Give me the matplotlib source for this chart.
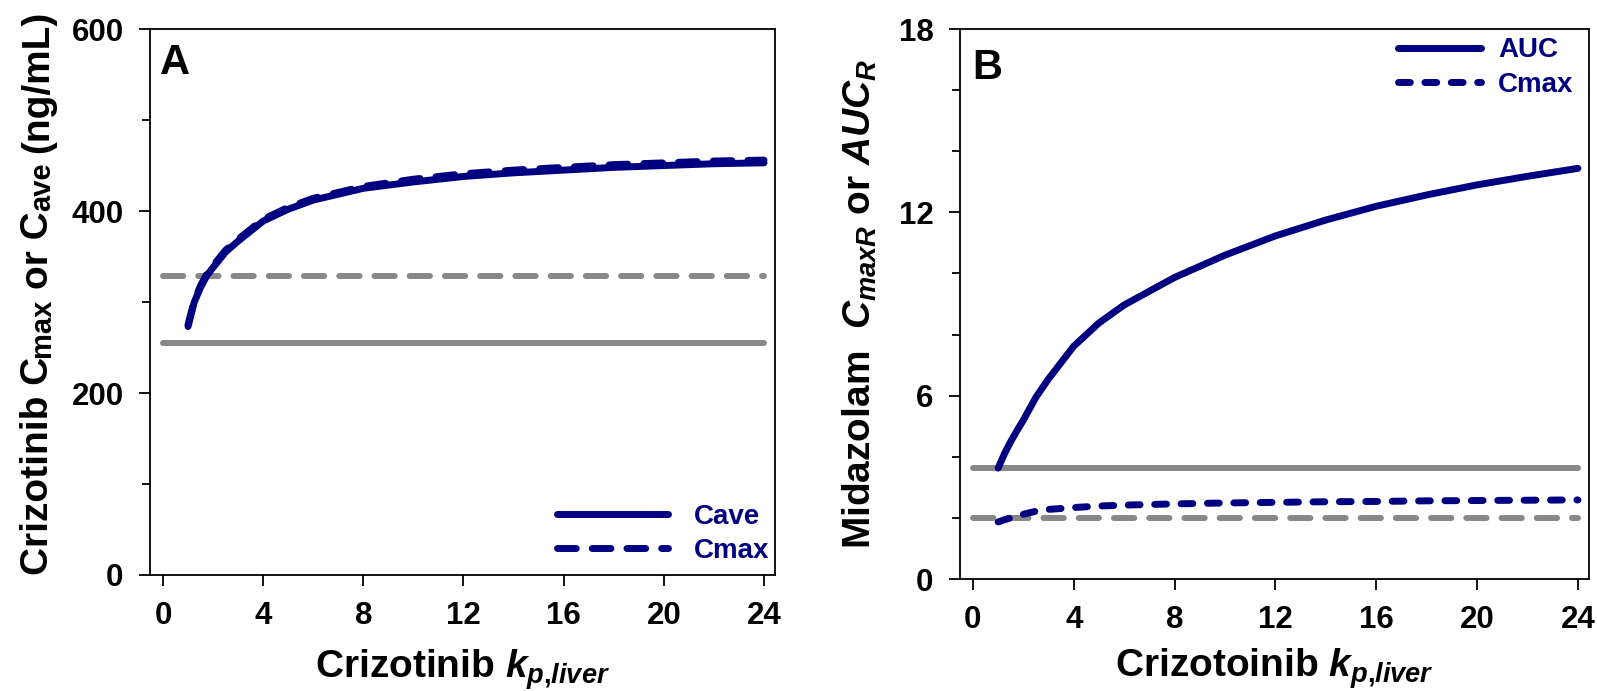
import matplotlib
matplotlib.use("Agg")
import matplotlib.pyplot as plt
from matplotlib.ticker import MultipleLocator

plt.rcParams['font.family'] = ['Liberation Sans', 'DejaVu Sans']
plt.rcParams['font.weight'] = 'bold'
plt.rcParams['axes.labelweight'] = 'bold'
plt.rcParams['mathtext.fontset'] = 'custom'
plt.rcParams['mathtext.rm'] = 'Liberation Sans:bold'
plt.rcParams['mathtext.bf'] = 'Liberation Sans:bold'
plt.rcParams['mathtext.it'] = 'Liberation Sans:italic:bold'
plt.rcParams['mathtext.sf'] = 'Liberation Sans:bold'

NAVY = '#000080'
GRAY = '#888888'

# crizotinib kp,liver values shared by both panels
kp = [1, 1.25, 1.5, 1.75, 2, 2.5, 3, 4, 5, 6, 8, 10, 12, 14, 16, 18, 20, 22, 24]

# panel A: crizotinib concentrations (ng/mL)
a_cave = [273, 300, 316, 329, 338, 355, 367, 389, 402, 412, 425, 432, 438, 442, 445, 448,
          450, 452, 453]
a_cmax = [275, 302, 318, 331, 340, 357, 369, 391, 404, 414, 427, 435, 441, 445, 448, 451,
          453, 455, 456]
a_cave_obs = 255
a_cmax_obs = 329

# panel B: midazolam ratios
b_auc = [3.63, 4.10, 4.50, 4.86, 5.20, 5.95, 6.55, 7.62, 8.38, 8.97, 9.87, 10.60, 11.23,
         11.75, 12.20, 12.57, 12.90, 13.18, 13.44]
b_cmax = [1.87, 1.94, 2.00, 2.06, 2.12, 2.22, 2.28, 2.34, 2.39, 2.42, 2.46, 2.49, 2.51,
          2.53, 2.54, 2.56, 2.57, 2.58, 2.59]
b_auc_obs = 3.63
b_cmax_obs = 2.0

obs_x = [0, 24]

fig = plt.figure(figsize=(15.97, 6.91), dpi=100)
axA = fig.add_axes([0.0939, 0.1679, 0.3914, 0.790])
axB = fig.add_axes([0.6010, 0.162, 0.3940, 0.796])

def style_axis(ax, ymax, ymajor, yminor):
    ax.set_xlim(-0.52, 24.44)
    ax.set_ylim(0, ymax)
    ax.xaxis.set_major_locator(MultipleLocator(4))
    ax.yaxis.set_major_locator(MultipleLocator(ymajor))
    ax.yaxis.set_minor_locator(MultipleLocator(yminor))
    ax.tick_params(axis='both', which='major', direction='out', length=8, width=1.3,
                   labelsize=22.5)
    ax.tick_params(axis='y', which='minor', direction='out', length=6, width=1.3)
    ax.tick_params(axis='y', which='major', pad=11)
    ax.tick_params(axis='x', which='major', pad=11)
    for s in ax.spines.values():
        s.set_linewidth(1.3)

style_axis(axA, 600, 200, 100)
style_axis(axB, 18, 6, 2)

# panel A lines
axA.plot(obs_x, [a_cave_obs, a_cave_obs], color=GRAY, lw=4.3, solid_capstyle='round')
axA.plot(obs_x, [a_cmax_obs, a_cmax_obs], color=GRAY, lw=4.3, dashes=(3.4, 2.5),
         dash_capstyle='round')
axA.plot(kp, a_cave, color=NAVY, lw=5, solid_capstyle='round', label='Cave')
axA.plot(kp, a_cmax, color=NAVY, lw=5, dashes=(2.7, 2.3), dash_capstyle='round',
         label='Cmax')

# panel B lines
axB.plot(obs_x, [b_auc_obs, b_auc_obs], color=GRAY, lw=4.3, solid_capstyle='round')
axB.plot(obs_x, [b_cmax_obs, b_cmax_obs], color=GRAY, lw=4.3, dashes=(3.4, 2.5),
         dash_capstyle='round')
axB.plot(kp, b_auc, color=NAVY, lw=5, solid_capstyle='round', label='AUC')
axB.plot(kp, b_cmax, color=NAVY, lw=5, dashes=(1.7, 2.1), dash_capstyle='round',
         label='Cmax')

legA = axA.legend(loc='lower right', bbox_to_anchor=(0.99, 0.02), frameon=False,
                  fontsize=20, handlelength=4.0, handletextpad=0.9, labelspacing=0.3,
                  borderpad=0, borderaxespad=0)
legB = axB.legend(loc='upper right', bbox_to_anchor=(0.975, 0.985), frameon=False,
                  fontsize=20, handlelength=3.0, handletextpad=0.6, labelspacing=0.3,
                  borderpad=0, borderaxespad=0)
for leg in (legA, legB):
    for t in leg.get_texts():
        t.set_color(NAVY)
        t.set_fontweight('bold')

# panel letters
axA.text(0.016, 0.974, 'A', transform=axA.transAxes, fontsize=30, ha='left', va='top')
axB.text(0.019, 0.965, 'B', transform=axB.transAxes, fontsize=30, ha='left', va='top')

# y label of A: pieces chained along the rotated baseline
pieces = [('Crizotinib C', 28, 0), ('max', 21, 0), ('or C', 28, 7), ('ave', 21, 0),
          ('(ng/mL)', 28, 7)]
prev = None
for txt, size, gap in pieces:
    if prev is None:
        prev = axA.text(-0.150, 0.0, txt, transform=axA.transAxes, rotation=90,
                        fontsize=size, ha='right', va='bottom')
    else:
        prev = axA.annotate(txt, xy=(1, 1), xycoords=prev, xytext=(0, gap),
                            textcoords='offset points', rotation=90,
                            fontsize=size, ha='right', va='bottom')

axB.set_ylabel(r'Midazolam  $C_{maxR}$ or $AUC_{R}$', fontsize=28)
axB.yaxis.set_label_coords(-0.129, 0.5)

axA.set_xlabel(r'Crizotinib $k_{p{,}liver}$', fontsize=28)
axA.xaxis.set_label_coords(0.5, -0.132)
axB.set_xlabel(r'Crizotoinib $k_{p{,}liver}$', fontsize=28)
axB.xaxis.set_label_coords(0.5, -0.123)

fig.savefig('out.png', dpi=100)
